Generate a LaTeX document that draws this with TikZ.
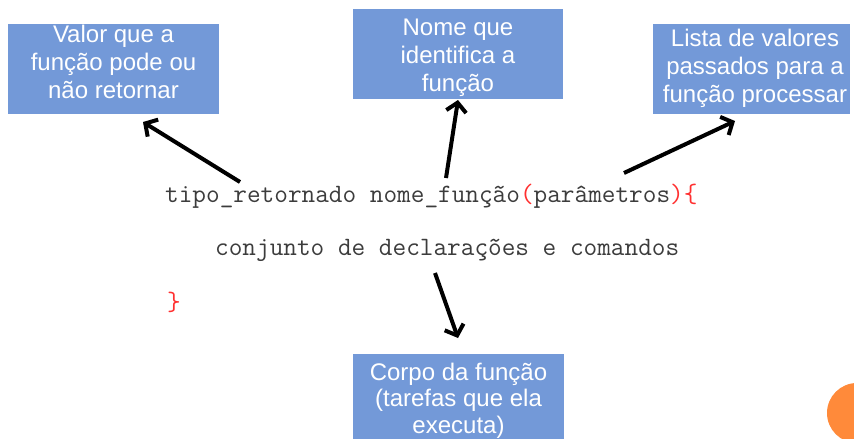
\documentclass[tikz,border=0pt]{standalone}
\usepackage{fontspec}
\setmainfont{Liberation Sans}
\usetikzlibrary{arrows.meta}
\definecolor{boxblue}{HTML}{7399D8}
\definecolor{codegray}{HTML}{3C3C3C}
\definecolor{codered}{HTML}{FF3030}
\definecolor{dotorange}{HTML}{FF8A3A}
\begin{document}
\begin{tikzpicture}[x=1pt,y=-1pt,
  infobox/.style={fill=boxblue,inner sep=0pt},
  boxtext/.style={anchor=base,inner sep=0pt,text=white,align=center,
    font=\fontsize{24}{28}\selectfont},
  codetext/.style={anchor=base west,inner sep=0pt,text=codegray,
    font=\ttfamily\fontsize{26.5}{30}\selectfont},
  pointer/.style={line width=4pt,-{Straight Barb[length=9pt,width=20pt]}}]
\useasboundingbox (0,0) rectangle (854,439);
\fill[white] (0,0) rectangle (854,439);
% boxes
\node[infobox,minimum width=211pt,minimum height=90pt] (ret) at (113.5,69) {};
\node[boxtext] (rettxt) at (113.5,98) {Valor que a\\função pode ou\\não retornar};
\node[infobox,minimum width=210pt,minimum height=90pt] (nome) at (458,54) {};
\node[boxtext] (nometxt) at (458,91) {Nome que\\identifica a\\função};
\node[infobox,minimum width=197pt,minimum height=90pt] (par) at (751.5,69) {};
\node[boxtext] (partxt) at (755,102) {Lista de valores\\passados para a\\função processar};
\node[infobox,minimum width=211pt,minimum height=96pt,anchor=north] (corpo) at (458.5,354) {};
\node[boxtext,font=\fontsize{24}{26.5}\selectfont] (corpotxt) at (458.5,433) {Corpo da função\\(tarefas que ela\\executa)};
% code
\node[codetext] (l1) at (165,202) {tipo\_retornado nome\_função\textcolor{codered}{(}parâmetros\textcolor{codered}{)\{}};
\node[codetext] (l2) at (215,255) {conjunto de declarações e comandos};
\node[codetext,text=codered] (l3) at (167,310) {\}};
% arrow coordinates
\coordinate (t1) at (240,182); \coordinate (h1) at (143,122);
\coordinate (t2) at (446,178); \coordinate (h2) at (458,100);
\coordinate (t3) at (624,173); \coordinate (h3) at (735,121);
\coordinate (t4) at (435,273); \coordinate (h4) at (458,338);
\draw[pointer] (t1) -- (h1);
\draw[pointer] (t2) -- (h2);
\draw[pointer] (t3) -- (h3);
\draw[pointer] (t4) -- (h4);
% orange dot
\fill[dotorange] (857,413) circle (30);
\end{tikzpicture}
\end{document}
